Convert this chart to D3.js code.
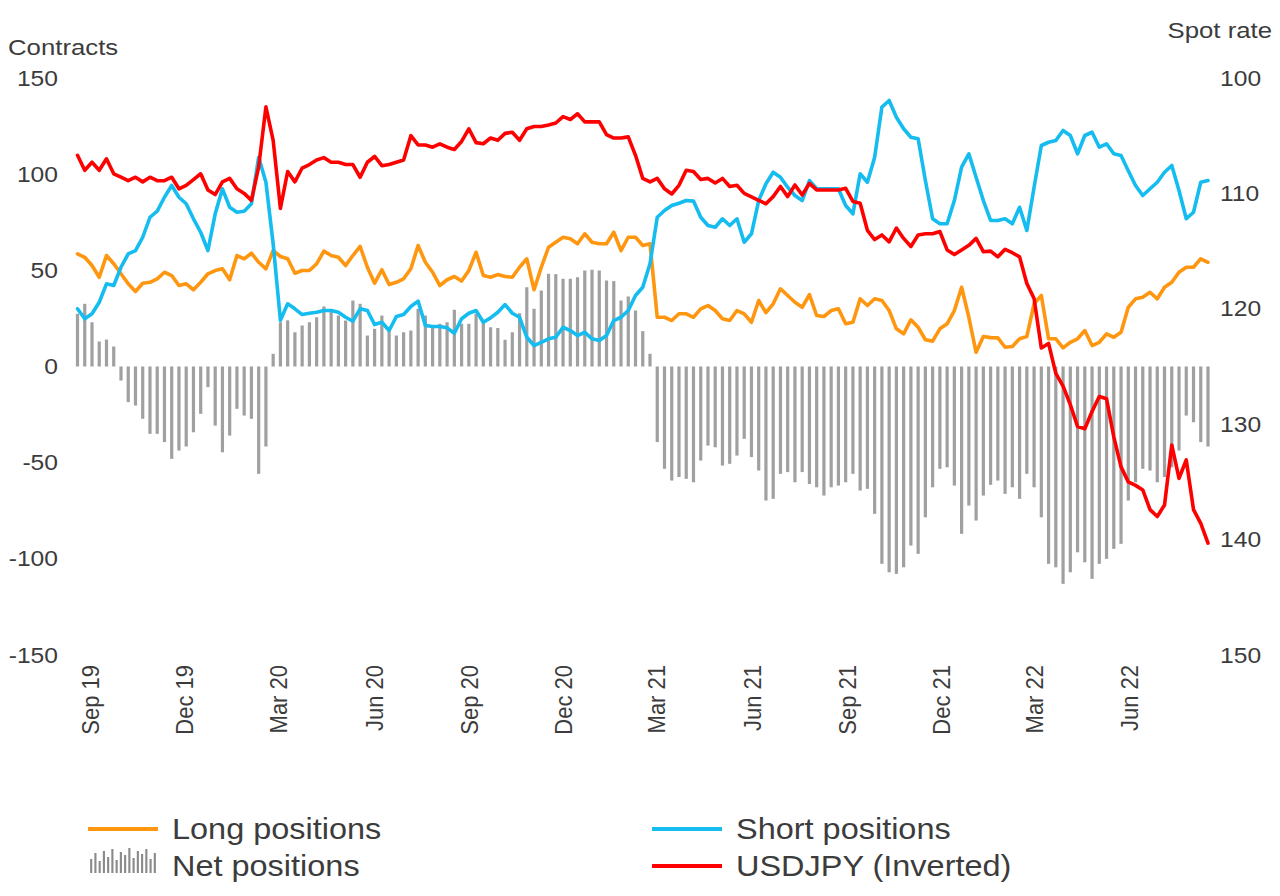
<!DOCTYPE html>
<html><head><meta charset="utf-8">
<script src="https://cdn.jsdelivr.net/npm/d3@7"></script>
<style>
body{margin:0;background:#fff}
svg{display:block}
text{font-family:"Liberation Sans",Arial,sans-serif;fill:#3c3c3c}
</style>
</head><body>
<svg id="chart" width="1280" height="896"></svg>
<script>
// ---- data (weekly, first week 2019-08-20) ----
const firstWeek = "2019-08-20";

const netPositions = [
 27.4, 32.6, 23, 13, 14, 10.4, -7.3, -18.5, -20.3, -27.2, -35, -35, -39.3, -48, -43.7, -41.6, -34.2, -24.6, -10.7, -30.7, -44.6, -35.9, -22, -25.5, -27.2, -55.8, -41.6, 6.6, 23, 24, 17.8, 21.3,
 23, 25.6, 31.2, 29.1, 26.5, 23.9, 34.3, 32.6, 16.1, 19.6, 26.5, 18.7, 16.1, 17.8, 18.7, 30, 26.5, 21.3, 22.2, 23, 29.5, 22.2, 22.2, 27.4, 23, 20.4, 20, 13.9, 17.8, 27.7, 41.2, 30,
 39.5, 48.2, 48, 45.6, 45.6, 46.4, 49.9, 50.3, 49.9, 44.7, 44.4, 34.3, 36.4, 29.1, 18.4, 6.6, -39.3, -53.2, -59.3, -57.5, -58.4, -60.2, -48.9, -41.1, -42, -51.5, -50.6, -46.3, -37.6, -47.1, -54.1, -69.7,
 -68.8, -55.8, -54.9, -60.2, -54.9, -61.1, -62.8, -67.1, -62.8, -61.9, -60.2, -55.8, -64.5, -63.6, -76.6, -102.6, -107, -107.8, -104.4, -93.1, -97.4, -78.4, -62.8, -53.2, -52.4, -61.9, -87, -72.3, -80.1, -67.1, -61.5,
 -59.3, -66.2, -62.8, -68.8, -55.8, -62.8, -78.4, -102.6, -104.4, -113, -107, -96.6, -101.8, -110.4, -102.6, -100, -94.8, -92.2, -69.7, -60.2, -53.2, -54.1, -60.2, -57.5, -52.4, -43.7, -25.5, -29, -39.3, -41.6
];

const longPositions = [
 58.6, 56.8, 52.5, 46.4, 57.7, 53.4, 48.2, 43, 39, 43.3, 43.8, 45.6, 49, 47.3, 42.1, 43, 39.9, 43.8, 48.2, 49.9, 50.8, 45.1, 57.7, 56, 58.9, 54.2, 50.8, 60.3, 57.2, 56, 48.5, 49.9,
 49.9, 53.4, 60, 57.7, 56.8, 52.5, 57.7, 62.4, 51.6, 43.3, 50.3, 42.6, 43.8, 45.6, 50.8, 62.9, 54.2, 49, 42.1, 45.1, 46.8, 44.4, 49.9, 59.4, 47.3, 46.4, 47.8, 46.8, 46.4, 51.6, 56, 39.9,
 51.6, 62, 64.6, 67.2, 66.4, 63.8, 69, 64.6, 63.8, 63.8, 69.8, 60.3, 67.2, 67.2, 62.9, 63.8, 25.6, 25.6, 23.9, 27.4, 27.4, 25.6, 30, 31.7, 29.1, 24.8, 23.9, 29.1, 27.4, 23, 34.3, 28,
 32.6, 40.4, 36.9, 33.4, 30.8, 37.4, 26.5, 26, 29.1, 30, 22.2, 23, 35.2, 31.7, 35.2, 34.3, 29.1, 19.6, 17, 24.3, 20.4, 13.9, 13.2, 19.6, 22.2, 29.1, 41.2, 25.6, 7.4, 15.6, 15,
 14.9, 10, 10.4, 14.4, 15.6, 32.6, 36.9, 14.4, 14.4, 9.7, 12.6, 14.4, 18.7, 10.9, 12.6, 17, 15.2, 17.8, 30.8, 35.2, 36, 38.6, 35.2, 41.2, 43.8, 49, 51.6, 51.6, 56, 54.2
];

const shortPositions = [
 30, 24.8, 27.4, 33.4, 43, 42.1, 51.6, 58.6, 60.3, 67.2, 77.6, 80.8, 88, 94.1, 88, 84.6, 76.8, 69.8, 60.3, 79.4, 92.4, 82.8, 80.2, 80.7, 84.6, 108.8, 95.8, 63.8, 24, 32.6, 30, 27,
 27.7, 28.2, 29.1, 29.1, 28.2, 25.6, 23.6, 30, 29.1, 21.8, 23, 18.7, 26, 27, 31.2, 34, 21.3, 20.8, 20.8, 20.1, 17.3, 24.8, 27.7, 29.1, 23, 25.3, 28.2, 32.2, 27.7, 25.6, 15.2, 10.9,
 12.6, 14.4, 15.2, 20.4, 18.7, 16.1, 17.8, 14.4, 13.5, 16.1, 23.9, 25.6, 29.1, 36.9, 41.2, 53.4, 77.6, 81.1, 83.7, 84.9, 86.3, 86, 77.6, 73.3, 72.4, 76.8, 73.3, 76.8, 64.6, 69, 86.3, 95,
 101, 98.4, 93.2, 88.9, 86.3, 96.7, 92.4, 92.4, 92.4, 92.4, 83.7, 79.4, 100.2, 95.8, 108.8, 134.9, 138.3, 129.6, 123.6, 119.2, 118.4, 96.7, 76.8, 74.2, 74.2, 86.3, 103.7, 110.6, 98.4, 86.3, 76,
 75.9, 76.8, 74.2, 82.8, 70.7, 93.2, 114.9, 116.6, 117.5, 122.7, 120.1, 110.6, 120.1, 121.8, 114, 115.8, 110.6, 109.7, 101.8, 94.1, 88.9, 92.4, 95.8, 101, 104.5, 91.5, 76.8, 80.2, 95.8, 96.7
];

const usdjpy = [
 106.7, 108, 107.3, 108, 107, 108.3, 108.6, 108.9, 108.6, 109, 108.6, 108.9, 108.9, 108.6, 109.6, 109.3, 108.8, 108.3, 109.7, 110.1, 109, 108.7, 109.6, 110, 110.6, 107.7, 102.5, 105.4, 111.3, 108.1, 109, 107.8,
 107.5, 107.1, 106.9, 107.3, 107.3, 107.5, 107.5, 108.6, 107.3, 106.8, 107.6, 107.5, 107.3, 107.1, 105, 105.8, 105.8, 106, 105.7, 106, 106.2, 105.5, 104.4, 105.6, 105.7, 105.2, 105.4, 104.8, 104.7, 105.4, 104.4, 104.2,
 104.2, 104.07, 103.9, 103.35, 103.6, 103.1, 103.8, 103.8, 103.8, 104.9, 105.2, 105.2, 105.1, 106.7, 108.7, 109, 108.7, 109.6, 110.05, 109.3, 108, 108.1, 108.8, 108.7, 109.1, 108.7, 109.4, 109.3, 110, 110.3, 110.6, 110.9,
 110.28, 109.4, 110.28, 109.27, 110.14, 109.13, 109.7, 109.7, 109.7, 109.7, 109.56, 110.7, 110.86, 113.2, 114, 113.6, 114.2, 113, 113.9, 114.6, 113.6, 113.5, 113.5, 113.3, 114.9, 115.3, 114.9, 114.5, 113.9, 115.05, 115,
 115.5, 114.85, 115.14, 115.5, 117.8, 119.1, 123.4, 123, 125.6, 126.7, 128.3, 130.2, 130.4, 128.9, 127.6, 127.8, 131.1, 133.7, 135, 135.3, 135.7, 137.4, 138, 137, 131.8, 134.7, 133.1, 137.4, 138.6, 140.3
];

const leftTicks = [-150, -100, -50, 0, 50, 100, 150];
const rightTicks = [100, 110, 120, 130, 140, 150];
const xTickDates = ["2019-09-01","2019-12-01","2020-03-01","2020-06-01","2020-09-01","2020-12-01",
                    "2021-03-01","2021-06-01","2021-09-01","2021-12-01","2022-03-01","2022-06-01"];
const xTickLabels = ["Sep 19","Dec 19","Mar 20","Jun 20","Sep 20","Dec 20",
                     "Mar 21","Jun 21","Sep 21","Dec 21","Mar 22","Jun 22"];
const legendNetIcon = [14, 20, 12, 22, 16, 24, 13, 21, 18, 25, 15, 22, 19, 24, 14, 20];

// ---- drawing ----
const STRETCH = 1.12; // reference text is slightly wide
const parse = d3.timeParse("%Y-%m-%d");
const start = parse(firstWeek);
const dates = netPositions.map((_, i) => d3.timeDay.offset(start, 7 * i));
const tickDates = xTickDates.map(parse);

const COLORS = { long: "#FF960F", short: "#14BCF0", fx: "#FF0000", net: "#A0A0A0" };

const svg = d3.select("#chart");
const x = d3.scaleTime().domain([dates[0], dates[dates.length - 1]]).range([77.5, 1208]);
const yL = d3.scaleLinear().domain([-150, 150]).range([655, 78]);
const yR = d3.scaleLinear().domain([100, 150]).range([78, 655]);

// bars
svg.append("g").selectAll("rect").data(netPositions).join("rect")
  .attr("x", (d, i) => x(dates[i]) - 1.6)
  .attr("width", 3.2)
  .attr("y", d => Math.min(yL(d), yL(0)))
  .attr("height", d => Math.abs(yL(d) - yL(0)))
  .attr("fill", COLORS.net);

function drawLine(values, scale, color) {
  const line = d3.line().x((d, i) => x(dates[i])).y(d => scale(d));
  svg.append("path").datum(values)
    .attr("d", line).attr("fill", "none")
    .attr("stroke", color).attr("stroke-width", 3.6)
    .attr("stroke-linejoin", "round").attr("stroke-linecap", "round");
}
drawLine(longPositions, yL, COLORS.long);
drawLine(shortPositions, yL, COLORS.short);
drawLine(usdjpy, yR, COLORS.fx);

// axes
const axL = svg.append("g").attr("transform", "translate(58,0)")
  .call(d3.axisLeft(yL).tickValues(leftTicks).tickSize(0).tickPadding(0).tickFormat(d => String(d)));
const axR = svg.append("g").attr("transform", "translate(1220,0)")
  .call(d3.axisRight(yR).tickValues(rightTicks).tickSize(0).tickPadding(0).tickFormat(d => String(d)));
const axB = svg.append("g").attr("transform", "translate(0,663)")
  .call(d3.axisBottom(x).tickValues(tickDates).tickSize(0).tickFormat((d, i) => xTickLabels[i]));
[axL, axR, axB].forEach(a => {
  a.select(".domain").remove();
  a.selectAll("text").style("font-family", '"Liberation Sans",Arial,sans-serif')
    .style("font-size", "22px").attr("fill", "#3c3c3c");
});
axL.selectAll("text").attr("x", 0).attr("transform", `scale(${STRETCH},1)`);
axR.selectAll("text").attr("x", 0).attr("transform", `scale(${STRETCH},1)`);
axB.selectAll("text").attr("transform", `scale(${STRETCH},1) rotate(-90)`)
  .attr("text-anchor", "end").attr("x", -2).attr("y", 0).attr("dy", "0.35em");

// axis titles
svg.append("text").attr("transform", `translate(8,55) scale(${STRETCH},1)`)
  .style("font-size", "23px").text("Contracts");
svg.append("text").attr("transform", `translate(1272,38) scale(${STRETCH},1)`)
  .attr("text-anchor", "end").style("font-size", "23px").text("Spot rate");

// legend
const lg = svg.append("g");
const items = [
  { label: "Long positions", color: COLORS.long, type: "line", x: 88, y: 829 },
  { label: "Net positions", color: COLORS.net, type: "bars", x: 88, y: 866 },
  { label: "Short positions", color: COLORS.short, type: "line", x: 652, y: 829 },
  { label: "USDJPY (Inverted)", color: COLORS.fx, type: "line", x: 652, y: 866 }
];
items.forEach(it => {
  if (it.type === "line") {
    lg.append("line").attr("x1", it.x).attr("x2", it.x + 70).attr("y1", it.y).attr("y2", it.y)
      .attr("stroke", it.color).attr("stroke-width", 4);
  } else {
    const bx = d3.scaleBand().domain(d3.range(legendNetIcon.length)).range([it.x, it.x + 70]).padding(0.5);
    lg.selectAll(null).data(legendNetIcon).join("rect")
      .attr("x", (d, i) => bx(i)).attr("width", bx.bandwidth())
      .attr("y", d => it.y + 7 - d).attr("height", d => d).attr("fill", "#8a8a8a");
  }
  lg.append("text").attr("transform", `translate(${it.x + 84},${it.y + 10}) scale(${STRETCH},1)`)
    .style("font-size", "29px").text(it.label);
});
</script>
</body></html>
